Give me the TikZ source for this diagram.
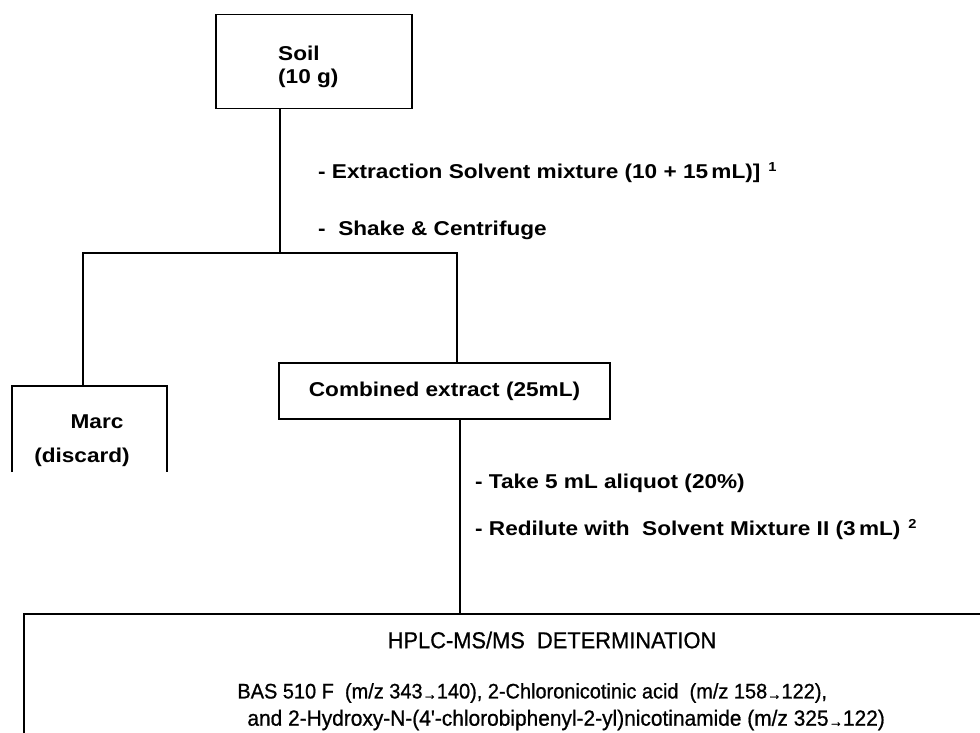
\documentclass[tikz,border=0pt]{standalone}
\usepackage{fontspec}
\setmainfont{Liberation Sans}
\newfontfamily\stepfont[FakeStretch=1.13]{Liberation Sans}
\newfontfamily\detfont[FakeStretch=0.95,FakeBold=0.8]{Liberation Sans}
\newcommand{\supmark}[1]{\hspace{8pt}\raisebox{7pt}{\fontsize{13}{13}\selectfont #1}}
\newcommand{\smallarr}{\raisebox{-1pt}{\fontsize{15}{15}\selectfont →}}
\begin{document}
\begin{tikzpicture}[x=1pt,y=-1pt,
  box/.style={draw, line width=1.8pt, rectangle, inner sep=0pt},
  link/.style={line width=1.6pt},
  steptxt/.style={inner sep=0pt, font=\stepfont\bfseries\fontsize{20}{23}\selectfont},
  note/.style={steptxt, anchor=west},
  dettxt/.style={inner sep=0pt, font=\detfont\fontsize{22}{26}\selectfont}]
\useasboundingbox (0,0) rectangle (980,733);
\clip (0,0) rectangle (980,733);
\fill[white] (0,0) rectangle (980,733);

% Soil
\node[box, minimum width=196pt, minimum height=94pt] (soil) at (314,61.5) {};
\node[steptxt, anchor=west, align=left] (soiltxt) at (278,67) {Soil\\(10 g)};
\coordinate (j1) at (280,253);
\draw[link] (j1 |- soil.south) -- (j1);
\node[note] (n1) at (318,173) {- Extraction Solvent mixture (10 + 15\,mL)]\supmark{1}};
\node[note] (n2) at (318,230) {-\ \ Shake \& Centrifuge};

% Marc
\node[minimum width=155pt, minimum height=86pt, inner sep=0pt] (marc) at (89.5,429) {};
\draw[line width=1.8pt] (marc.south west) -- (marc.north west) -- (marc.north east) -- (marc.south east);
\node[steptxt] (marct) at (97,422) {Marc};
\node[steptxt] (disc) at (82,457) {(discard)};

% Combined extract
\node[box, steptxt, anchor=north west, minimum height=56pt, inner xsep=30pt] (comb) at (278,362) {Combined extract (25mL)};

% branch
\coordinate (jl) at (83,253);
\coordinate (jr) at (457,253);
\draw[link] (marc.north -| jl) -- (jl) -- (jr) -- (comb.north -| jr);

% HPLC box
\node[box, anchor=north west, minimum width=1000pt, minimum height=200pt] (hplc) at (23,613) {};
\coordinate (j2) at (460,613);
\draw[link] (comb.south -| j2) -- (j2);
\node[note] (n3) at (475,483) {- Take 5 mL aliquot (20\%)};
\node[note] (n4) at (475,530) {- Redilute with\ \ Solvent Mixture II (3\,mL)\supmark{2}};

\node[dettxt, font=\detfont\fontsize{23}{27}\selectfont] (det) at (552,640) {HPLC-MS/MS\ \ DETERMINATION};
\node[dettxt, anchor=east] (l2) at (885,720) {and 2-Hydroxy-N-(4'-chlorobiphenyl-2-yl)nicotinamide (m/z 325\smallarr 122)};
\node[dettxt, anchor=west, font=\detfont\fontsize{21}{25}\selectfont] (l1) at ([xshift=-10pt]l2.west |- 0,693) {BAS 510 F\ \ (m/z 343\smallarr 140), 2-Chloronicotinic acid\ \ (m/z 158\smallarr 122),};
\end{tikzpicture}
\end{document}
